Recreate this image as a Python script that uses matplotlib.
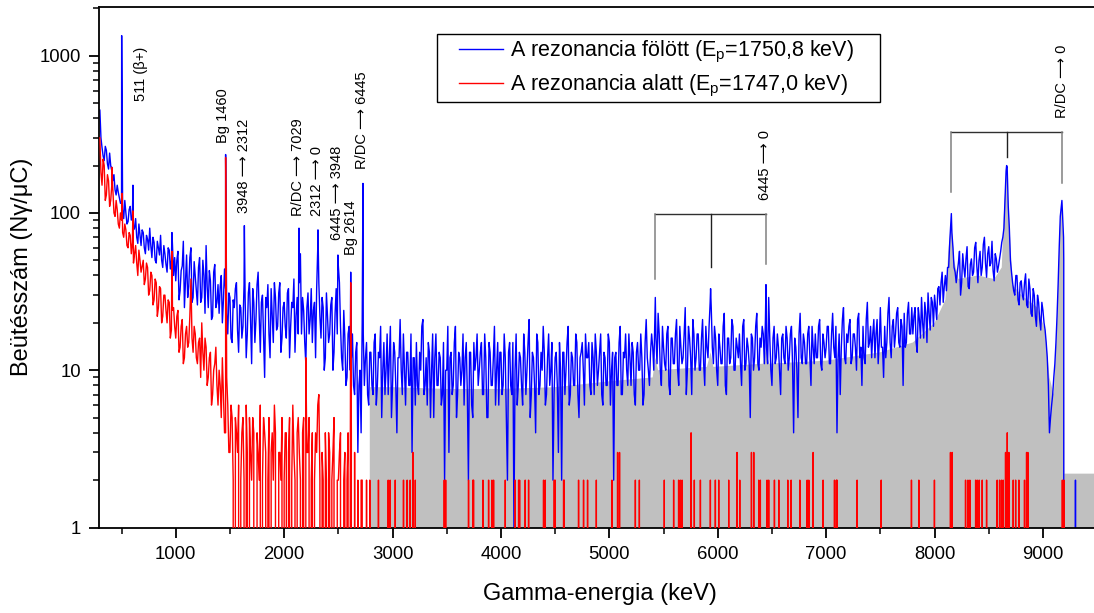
import numpy as np
import matplotlib
matplotlib.use("Agg")
import matplotlib.pyplot as plt
from matplotlib.ticker import MultipleLocator, FixedLocator, LogLocator, NullFormatter, FuncFormatter
from matplotlib.patches import Rectangle

plt.rcParams['font.family'] = ['Liberation Sans', 'DejaVu Sans']
plt.rcParams['mathtext.fontset'] = 'custom'
plt.rcParams['mathtext.rm'] = 'Liberation Sans'
plt.rcParams['mathtext.it'] = 'Liberation Sans:italic'

# ------------------------------------------------------------------ data
E_START = 300   # keV, first channel
E_STEP = 20     # keV between even channels; odd channels sit half-way

# blue spectrum (above the resonance): even channels 300, 320, ...
blue_even_300 = [450, 260, 215, 250, 190, 200, 160, 140, 150, 125,
                 118, 92, 100, 88, 110, 95, 80, 70, 85, 62,
                 75, 55, 68, 80, 52, 65, 48, 60, 72, 45,
                 55, 42, 58, 50, 40]
blue_even_1000 = [37, 57, 32, 46, 25, 54, 34, 60, 29, 40,
                  26, 52, 29, 40, 62, 25, 37, 22, 47, 27,
                  23, 40, 28, 33, 17, 29, 15, 25, 36, 13,
                  25, 19, 29, 17, 36, 11, 27, 21, 42, 13,
                  30, 9, 25, 17, 33, 15, 29, 19, 36, 16]
blue_even_2000 = [27, 16, 33, 19, 25, 13, 29, 36, 17, 24,
                  11, 31, 21, 15, 27, 33, 36, 16, 25, 12,
                  22, 17, 29, 13, 33, 46, 19, 10, 16, 9,
                  19, 12, 8, 13, 3, 10, 20, 8, 15, 6]
blue_even_2800 = [13, 7, 17, 8, 12, 5, 15, 10, 7, 19,
                  8, 13, 4, 12, 10, 17, 6, 13, 8, 3,
                  12, 15, 7, 10, 21, 8, 6, 13, 10, 5,
                  17, 8, 12, 7, 2, 10, 3, 13, 8, 19,
                  7, 12, 10, 6, 15, 2, 13, 5, 10, 17]
blue_even_3800 = [10, 15, 7, 12, 5, 13, 8, 19, 10, 6,
                  13, 8, 12, 2, 15, 7, 1, 17, 8, 12,
                  6, 13, 10, 21, 7, 12, 4, 15, 8, 10,
                  13, 7, 17, 10, 2, 12, 8, 15, 2, 13,
                  10, 19, 7, 12, 8, 15, 5, 13, 10, 17]
blue_even_4800 = [12, 8, 15, 7, 13, 10, 17, 6, 12, 8,
                  15, 10, 2, 13, 8, 19, 7, 12, 10, 17,
                  8, 13, 6, 15, 10, 12, 7, 21, 10, 13,
                  14, 21, 11, 17, 8, 14, 10, 19, 7, 16,
                  11, 21, 8, 14, 12, 25, 10, 16, 7, 17]
blue_even_5800 = [12, 17, 10, 21, 8, 14, 19, 25, 11, 16,
                  8, 14, 11, 23, 7, 16, 12, 19, 10, 14,
                  17, 8, 21, 11, 14, 5, 16, 12, 23, 10,
                  14, 17, 21, 11, 16, 8, 19, 12, 14, 7,
                  17, 11, 16, 12, 19, 4, 14, 5, 23, 11]
blue_even_6800 = [15, 11, 19, 8, 14, 17, 12, 21, 10, 15,
                  14, 19, 11, 23, 12, 4, 17, 14, 25, 11,
                  15, 21, 12, 17, 10, 23, 14, 19, 11, 27,
                  15, 12, 21, 17, 11, 25, 14, 19, 15, 29,
                  12, 21, 17, 25, 14, 19, 23, 15, 27, 17]
blue_even_7800 = [17, 25, 13, 21, 29, 16, 23, 31, 18, 27,
                  30, 21, 34, 36, 27, 40, 45, 65, 75, 45,
                  36, 48, 30, 55, 39, 61, 33, 51, 42, 65,
                  36, 57, 45, 70, 39, 61, 48, 43, 55, 42,
                  51, 65, 80, 185, 110, 50, 36, 30, 40, 26]
blue_even_8800 = [37, 28, 41, 25, 33, 22, 30, 19, 27, 18,
                  24, 18, 12, 4, 6, 9, 15, 35, 95, 100,
                  0, 0, 0, 0, 0, 2, 0, 0, 0, 0, 0]
# blue odd channels 310, 330, ...
blue_odd_310 = [300, 230, 265, 205, 240, 185, 175, 130, 135, 115,
                105, 120, 85, 105, 90, 78, 92, 64, 72, 78,
                60, 72, 58, 62, 70, 50, 66, 54, 50, 62,
                47, 60, 44, 62, 52]
blue_odd_1010 = [50, 28, 43, 66, 37, 29, 52, 27, 49, 32,
                 45, 27, 50, 23, 34, 43, 21, 42, 25, 35,
                 34, 20, 44, 23, 31, 16, 28, 33, 18, 26,
                 16, 35, 12, 31, 21, 33, 15, 35, 22, 27,
                 16, 29, 35, 12, 22, 36, 18, 31, 13, 25]
blue_odd_2010 = [19, 31, 12, 27, 38, 22, 17, 55, 29, 15,
                 25, 17, 33, 24, 12, 60, 22, 29, 10, 31,
                 15, 26, 10, 23, 17, 36, 12, 24, 8, 17,
                 10, 17, 7, 15, 8, 4, 17, 12, 7, 13]
blue_odd_2810 = [8, 15, 6, 13, 19, 10, 7, 17, 12, 5,
                 15, 8, 12, 21, 7, 10, 13, 8, 17, 12,
                 6, 8, 13, 19, 7, 12, 15, 5, 17, 12,
                 8, 13, 6, 15, 10, 19, 12, 7, 15, 5,
                 13, 8, 17, 12, 7, 13, 6, 15, 12, 8]
blue_odd_3810 = [13, 7, 17, 5, 15, 8, 12, 6, 15, 13,
                 7, 17, 5, 13, 8, 15, 10, 6, 13, 8,
                 17, 7, 15, 5, 13, 8, 17, 7, 13, 19,
                 6, 12, 8, 15, 7, 13, 3, 10, 13, 7,
                 15, 6, 13, 8, 17, 7, 12, 15, 6, 12]
blue_odd_4810 = [15, 7, 12, 17, 8, 13, 7, 13, 8, 17,
                 6, 13, 12, 8, 15, 7, 13, 17, 8, 12,
                 15, 7, 13, 10, 17, 6, 15, 12, 8, 17,
                 10, 16, 23, 10, 19, 11, 17, 8, 16, 11,
                 17, 10, 19, 11, 17, 7, 19, 12, 21, 10]
blue_odd_5810 = [17, 10, 16, 11, 19, 12, 27, 14, 19, 10,
                 17, 11, 19, 8, 16, 11, 21, 10, 16, 12,
                 11, 19, 10, 16, 11, 17, 10, 19, 11, 16,
                 19, 11, 14, 29, 10, 16, 11, 17, 10, 16,
                 12, 19, 10, 17, 11, 16, 10, 17, 12, 17]
blue_odd_6810 = [11, 17, 12, 19, 11, 12, 19, 11, 17, 12,
                 19, 11, 17, 14, 19, 12, 7, 21, 12, 17,
                 19, 11, 17, 14, 21, 12, 8, 12, 21, 14,
                 19, 17, 12, 21, 15, 14, 9, 12, 23, 15,
                 19, 14, 23, 15, 21, 8, 14, 23, 17, 25]
blue_odd_7810 = [22, 15, 25, 16, 20, 27, 15, 23, 29, 19,
                 25, 33, 26, 42, 34, 32, 45, 85, 60, 42,
                 42, 57, 36, 45, 51, 34, 47, 40, 60, 46,
                 50, 40, 63, 48, 55, 46, 66, 37, 51, 46,
                 57, 70, 120, 195, 80, 42, 32, 40, 28, 36]
blue_odd_8810 = [30, 36, 26, 38, 23, 33, 22, 30, 21, 27,
                 20, 15, 8, 5, 7, 11, 22, 60, 110, 70,
                 0, 0, 0, 0, 0, 0, 0, 0, 0, 0, 0]
# blue photopeak maxima (energy keV, counts)
blue_peak_E = [410, 501, 605, 965, 1460, 1633, 2137, 2312, 2496, 2614, 2727,
               5424, 5934, 6445, 8155, 8665, 9175, 9192]
blue_peak_N = [195, 1340, 150, 75, 235, 83, 80, 78, 54, 42, 154,
               29, 33, 35, 99, 200, 120, 50]

# red spectrum (below the resonance), channels up to 2790 keV
red_even_300 = [300, 150, 200, 130, 160, 120, 140, 95, 105, 80,
                90, 70, 78, 60, 72, 65, 55, 48, 58, 42,
                50, 38, 45, 32, 40, 28, 36, 25, 33, 22,
                30, 20, 27, 18, 25]
red_even_1000 = [16, 24, 14, 21, 12, 19, 15, 38, 13, 17,
                 11, 16, 20, 10, 14, 9, 13, 7, 11, 8,
                 10, 5, 7, 4, 6, 3, 5, 0, 4, 6,
                 2, 5, 0, 3, 5, 2, 4, 0, 3, 6,
                 2, 4, 0, 5, 3, 2, 4, 0, 3, 5]
red_even_2000 = [2, 4, 3, 0, 6, 2, 4, 3, 0, 5,
                 12, 3, 0, 4, 2, 3, 7, 0, 2, 4,
                 0, 3, 2, 5, 0, 2, 4, 0, 3, 2,
                 0, 4, 0, 0, 2, 0, 2, 0, 2, 0]
red_odd_310 = [180, 220, 120, 175, 110, 150, 100, 120, 85, 100,
               75, 85, 62, 75, 55, 48, 62, 40, 50, 46,
               35, 48, 30, 42, 26, 38, 22, 34, 20, 30,
               24, 28, 16, 24, 19]
red_odd_1010 = [22, 13, 19, 11, 17, 14, 22, 16, 19, 12,
                15, 9, 13, 16, 8, 12, 6, 10, 14, 6,
                8, 12, 4, 9, 3, 6, 2, 5, 3, 0,
                4, 2, 6, 0, 3, 5, 0, 4, 2, 0,
                5, 3, 2, 0, 4, 6, 0, 3, 2, 0]
red_odd_2010 = [4, 0, 5, 2, 3, 0, 5, 2, 4, 0,
                3, 5, 2, 0, 4, 6, 2, 3, 0, 2,
                4, 0, 3, 0, 2, 3, 0, 2, 0, 4,
                2, 0, 3, 0, 0, 2, 0, 0, 0, 2]
red_peak_E = [410, 505, 605, 965, 1460, 2614]
red_peak_N = [195, 133, 103, 57, 225, 36]
# red isolated counts above 2800 keV (energy keV, counts); zero elsewhere
red_hi_E = [2870, 2960, 2978, 3025, 3101, 3135, 3163, 3188, 3210, 3477, 3490,
            3701, 3741, 3747, 3834, 3886, 3917, 3932, 4040, 4132, 4163, 4172,
            4224, 4255, 4393, 4409, 4492, 4501, 4578, 4584, 4716, 4762, 4799,
            4880, 5024, 5076, 5094, 5240, 5277, 5507, 5593, 5639, 5655, 5671,
            5754, 5784, 5840, 5932, 5978, 6009, 6101, 6178, 6203, 6311, 6332,
            6378, 6393, 6455, 6470, 6523, 6563, 6646, 6677, 6757, 6825, 6840,
            6880, 6972, 7077, 7095, 7101, 7286, 7508, 7787, 7855, 7999, 8147,
            8163, 8286, 8308, 8326, 8379, 8394, 8412, 8440, 8480, 8578, 8600,
            8618, 8633, 8655, 8671, 8686, 8726, 8748, 8778, 8830, 8849, 8861,
            9179, 9193]
red_hi_N = [2, 2, 2, 2, 2, 2, 2, 3, 2, 2, 2,
            2, 2, 2, 2, 2, 2, 2, 2, 2, 2, 2,
            2, 2, 2, 2, 2, 2, 2, 2, 2, 2, 2,
            2, 2, 3, 3, 2, 2, 2, 2, 2, 2, 2,
            4, 2, 2, 2, 2, 2, 2, 3, 2, 3, 3,
            2, 2, 2, 2, 2, 2, 2, 2, 2, 2, 2,
            3, 2, 2, 2, 2, 2, 2, 2, 2, 2, 3,
            3, 2, 2, 2, 2, 2, 2, 2, 2, 2, 2,
            2, 2, 3, 4, 3, 2, 2, 2, 2, 3, 3,
            2, 2]

# grey shaded spectrum
gray_E = [2790, 3000, 3500, 4000, 4500, 5000, 5400, 5424, 5450, 5900,
          5934, 5960, 6420, 6445, 6470, 7000, 7500, 7800, 8000, 8100,
          8130, 8155, 8180, 8220, 8400, 8550, 8620, 8645, 8665, 8685,
          8720, 8800, 8950, 9020, 9060, 9100, 9130, 9155, 9175, 9190,
          9198, 9480]
gray_V = [7.8, 7.8, 7.6, 7.6, 7.8, 8.5, 9, 12, 10, 10.5,
          13, 10.5, 11, 14, 11, 11.5, 13, 15, 20, 28,
          60, 90, 50, 38, 40, 38, 45, 120, 185, 100,
          35, 30, 25, 18, 9, 7, 20, 80, 115, 60,
          2.2, 2.2]

legend_labels = ["A rezonancia fölött (E$_\\mathrm{p}$=1750,8 keV)",
                 "A rezonancia alatt (E$_\\mathrm{p}$=1747,0 keV)"]

# peak labels: (text, energy keV, y where the text starts)
annotations = [("511 (β+)", 684, 518), ("Bg 1460", 1439, 280),
               ("3948 ⟶ 2312", 1630, 100), ("R/DC ⟶ 7029", 2129, 96),
               ("2312 ⟶ 0", 2300, 96), ("6445 ⟶ 3948", 2489, 67),
               ("Bg 2614", 2613, 54), ("R/DC ⟶ 6445", 2720, 191),
               ("6445 ⟶ 0", 6440, 120), ("R/DC ⟶ 0", 9172, 404)]
# escape-peak brackets: (DE, SE, FE energies), top y, leg bottoms
brackets = [((5424, 5934, 6445), 98, (38, 45, 47)),
            ((8154, 8664, 9178), 326, (135, 228, 156))]


# ------------------------------------------------------------------ assemble
def channels(even, odd, peakE, peakN):
    ev = [v for seg in even for v in seg]
    od = [v for seg in odd for v in seg]
    eE = E_START + E_STEP * np.arange(len(ev))
    oE = E_START + E_STEP // 2 + E_STEP * np.arange(len(od))
    E = np.concatenate([eE, oE, peakE]).astype(float)
    N = np.concatenate([ev, od, peakN]).astype(float)
    o = np.argsort(E, kind='stable')
    return list(E[o]), list(N[o])


bE, bN = channels([blue_even_300, blue_even_1000, blue_even_2000, blue_even_2800,
                   blue_even_3800, blue_even_4800, blue_even_5800, blue_even_6800,
                   blue_even_7800, blue_even_8800],
                  [blue_odd_310, blue_odd_1010, blue_odd_2010, blue_odd_2810,
                   blue_odd_3810, blue_odd_4810, blue_odd_5810, blue_odd_6810,
                   blue_odd_7810, blue_odd_8810],
                  blue_peak_E, blue_peak_N)
rE, rN = channels([red_even_300, red_even_1000, red_even_2000],
                  [red_odd_310, red_odd_1010, red_odd_2010],
                  red_peak_E, red_peak_N)
for e, n in zip(red_hi_E, red_hi_N):
    rE += [e - 0.5, e, e + 0.5]
    rN += [0, n, 0]

# ------------------------------------------------------------------ figure
W, H = 1094, 613
fig = plt.figure(figsize=(W / 100, H / 100), dpi=100)
ax = fig.add_axes([99 / W, (H - 527.5) / H, (W - 99) / W, (527.5 - 7) / H])
ax.set_yscale('log')

ax.fill_between(gray_E, gray_V, 0.01, color='#C0C0C0', lw=0, zorder=1)
ax.plot(bE, bN, color='#0000FF', lw=1.0, zorder=2, label=legend_labels[0])
ax.plot(rE, rN, color='#FF0000', lw=1.0, zorder=3, label=legend_labels[1])

ax.set_xlim(292, 9471)
ax.set_ylim(1, 2037)

for txt, e, y in annotations:
    ax.text(e, y, txt, rotation=90, ha='center', va='bottom', fontsize=10.5,
            color='black', zorder=5)

for (e1, e2, e3), top, (b1, b2, b3) in brackets:
    ax.plot([e1, e3], [top, top], color='#303030', lw=1.0, zorder=4)
    ax.plot([e1, e1], [top, b1], color='#808080', lw=1.1, zorder=4)
    ax.plot([e2, e2], [top, b2], color='#202020', lw=1.0, zorder=4)
    ax.plot([e3, e3], [top, b3], color='#808080', lw=1.1, zorder=4)

# axes styling
for s in ('left', 'bottom', 'top'):
    ax.spines[s].set_linewidth(1.3)
ax.spines['right'].set_visible(False)
ax.xaxis.set_major_locator(FixedLocator([1000, 2000, 3000, 4000, 5000, 6000, 7000, 8000, 9000]))
ax.xaxis.set_minor_locator(MultipleLocator(500))
ax.yaxis.set_major_locator(FixedLocator([1, 10, 100, 1000]))
ax.yaxis.set_major_formatter(FuncFormatter(lambda v, p: f"{v:g}"))
ax.yaxis.set_minor_locator(LogLocator(base=10, subs=np.arange(2, 10)))
ax.yaxis.set_minor_formatter(NullFormatter())
ax.tick_params(axis='both', which='major', direction='out', length=7, width=1.3,
               labelsize=13.3, pad=6, top=False, right=False)
ax.tick_params(axis='both', which='minor', direction='out', length=4, width=1.1,
               top=False, right=False)

ax.set_xlabel("Gamma-energia (keV)", fontsize=17)
ax.set_ylabel("Beütésszám (Nγ/μC)", fontsize=17)
ax.xaxis.set_label_coords(0.503, -0.106)
ax.yaxis.set_label_coords(-0.066, 0.5)

# legend with its frame
ax.add_patch(Rectangle((437 / W, 1 - 102 / H), 443 / W, 68 / H,
                       transform=fig.transFigure, facecolor='white',
                       edgecolor='black', lw=1.0, zorder=6, clip_on=False))
leg = ax.legend(loc='upper left', bbox_to_anchor=(459 / W, 1 - 39 / H),
                bbox_transform=fig.transFigure, frameon=False, fontsize=15.5,
                borderpad=0, borderaxespad=0, handlelength=2.05,
                handletextpad=0.33, labelspacing=0.36)
leg.set_zorder(7)

fig.savefig("out.png", dpi=100)
